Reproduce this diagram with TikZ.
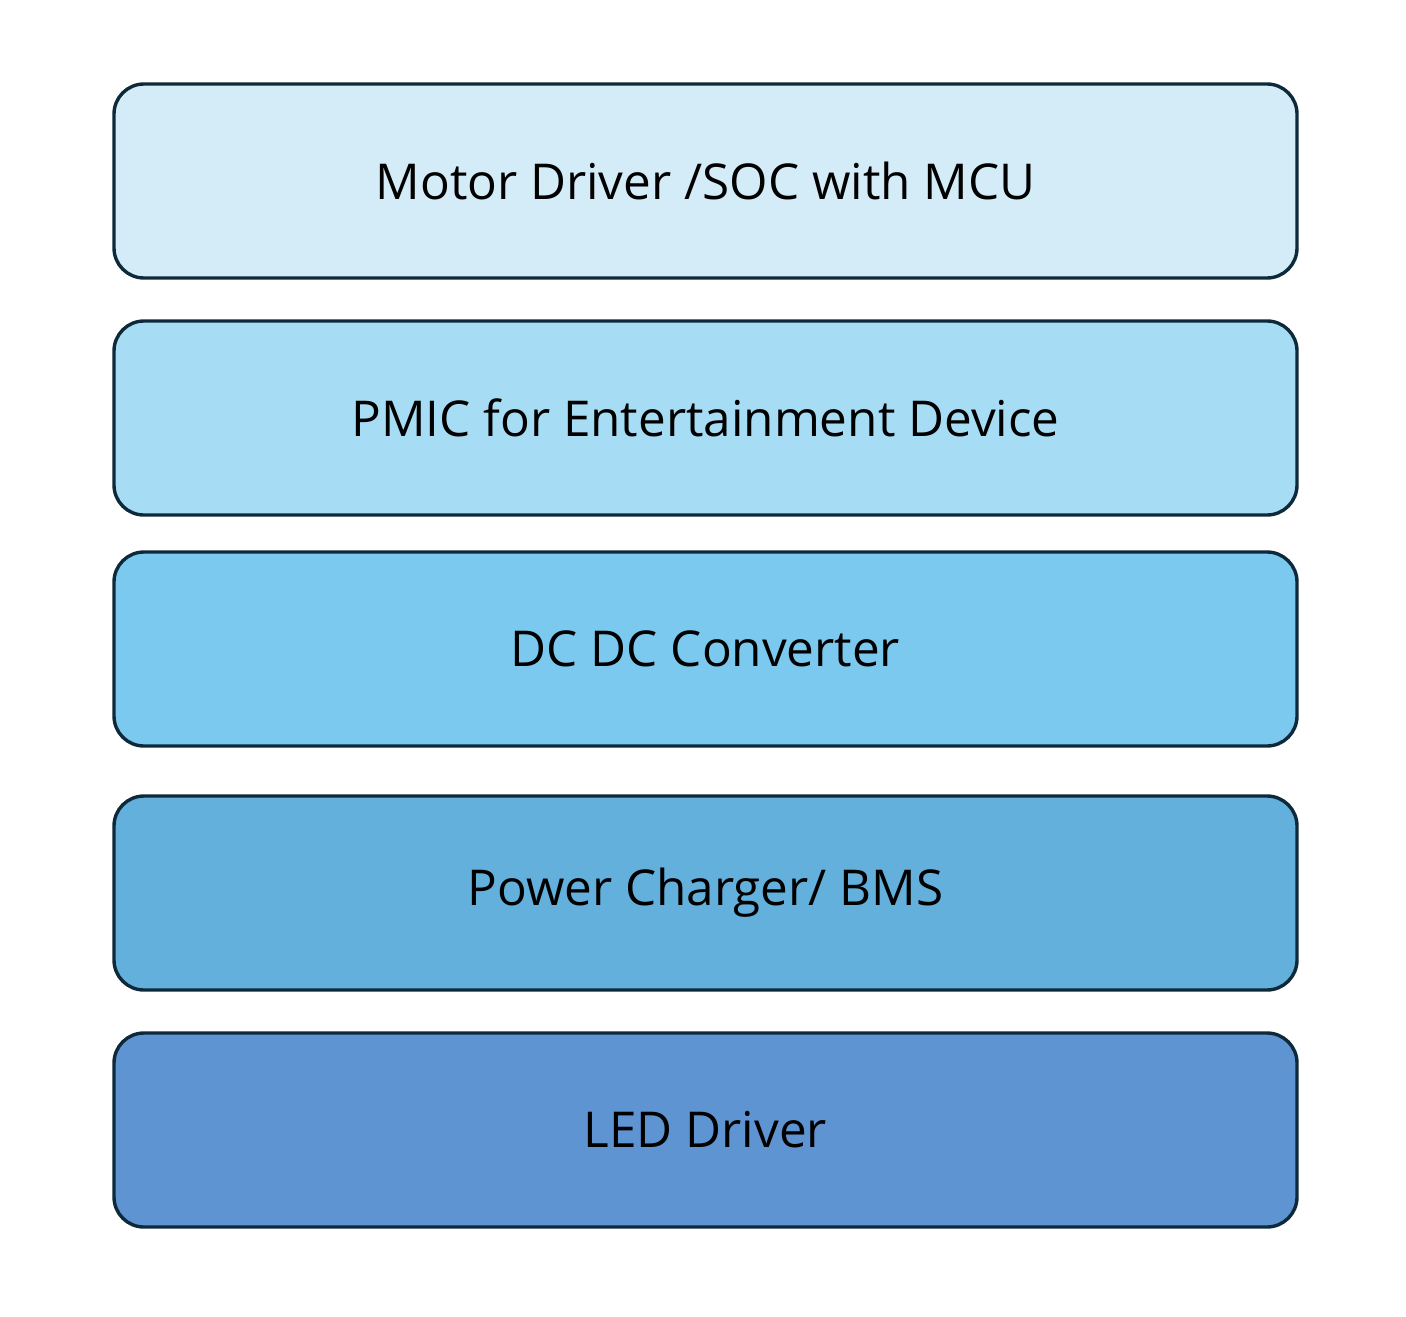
\documentclass[tikz,border=0pt]{standalone}
\usepackage{fontspec}
\setmainfont{Open Sans}
\definecolor{edge}{HTML}{0E2A3A}
\definecolor{cA}{HTML}{D3ECF8}
\definecolor{cB}{HTML}{A6DDF5}
\definecolor{cC}{HTML}{7BC9EE}
\definecolor{cD}{HTML}{62B0DB}
\definecolor{cE}{HTML}{5E94D2}
\begin{document}
\begin{tikzpicture}[x=0.5pt,y=-0.5pt,
  layer/.style={draw=edge,line width=1.7pt,rounded corners=15pt,
    minimum width=591.5pt,minimum height=97pt,inner sep=0pt,
    font=\fontsize{24.7}{29}\selectfont,text=black}]
\useasboundingbox (0,0) rectangle (1406,1316);
\node[layer,fill=cA] (motor) at (705.5,181) {Motor Driver /SOC with MCU};
\node[layer,fill=cB] (pmic) at (705.5,418) {PMIC for Entertainment Device};
\node[layer,fill=cC] (dcdc) at (705.5,649) {DC DC Converter};
\node[layer,fill=cD] (charger) at (705.5,893) {Power Charger/ BMS};
\node[layer,fill=cE] (led) at (705.5,1130) {LED Driver};
\end{tikzpicture}
\end{document}
